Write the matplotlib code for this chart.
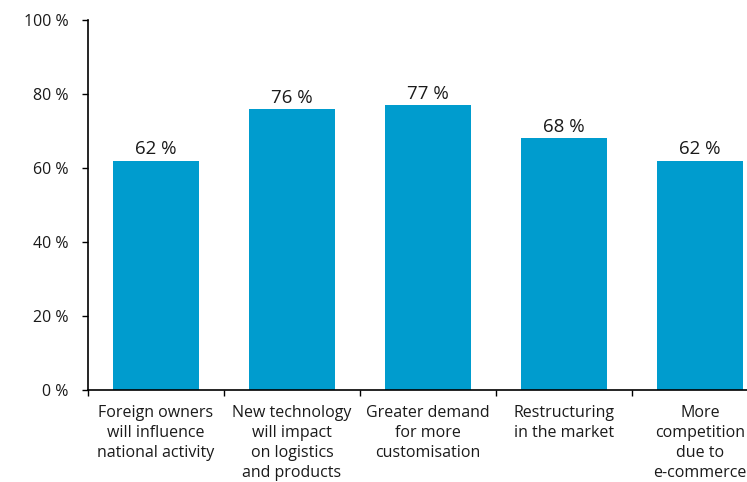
import matplotlib
matplotlib.use("Agg")
import matplotlib.pyplot as plt
import numpy as np

categories = [
    "Foreign owners\nwill influence\nnational activity",
    "New technology\nwill impact\non logistics\nand products",
    "Greater demand\nfor more\ncustomisation",
    "Restructuring\nin the market",
    "More\ncompetition\ndue to\ne-commerce",
]
values = [62, 76, 77, 68, 62]
yticks = [0, 20, 40, 60, 80, 100]
ytick_labels = ["0 %", "20 %", "40 %", "60 %", "80 %", "100 %"]

plt.rcParams['font.family'] = ['Open Sans', 'DejaVu Sans']

fig = plt.figure(figsize=(7.47, 4.82), dpi=100)
ax = fig.add_axes([88/747, 92/482, 680/747, 370/482])

x = np.arange(len(categories))
bars = ax.bar(x, values, width=0.63, color="#009CCE", zorder=2)
for xi, v in zip(x, values):
    ax.text(xi, v + 0.6, f"{v} %", ha="center", va="bottom", fontsize=13.5, color="#1a1a1a")

ax.set_xlim(-0.5, len(categories) - 0.5)
ax.set_ylim(0, 100)
ax.set_yticks(yticks)
ax.set_yticklabels(ytick_labels, fontsize=11.5, color="#1a1a1a")

ax.set_xticks(np.arange(len(categories) + 1) - 0.5)
ax.set_xticklabels([])
ax.set_xticks(x, minor=True)
ax.set_xticklabels(categories, minor=True, fontsize=11.5, color="#1a1a1a", linespacing=1.33, va="top")
ax.tick_params(axis="x", which="minor", length=0, pad=11)
ax.tick_params(axis="x", which="major", length=4, width=1, direction="out")
ax.tick_params(axis="y", length=4, width=1, pad=10)
for lbl in ax.get_yticklabels():
    lbl.set_horizontalalignment("right")

for s in ["top", "right"]:
    ax.spines[s].set_visible(False)
ax.spines["left"].set_linewidth(1.2)
ax.spines["bottom"].set_linewidth(1.2)

fig.savefig("out.png", dpi=100)
